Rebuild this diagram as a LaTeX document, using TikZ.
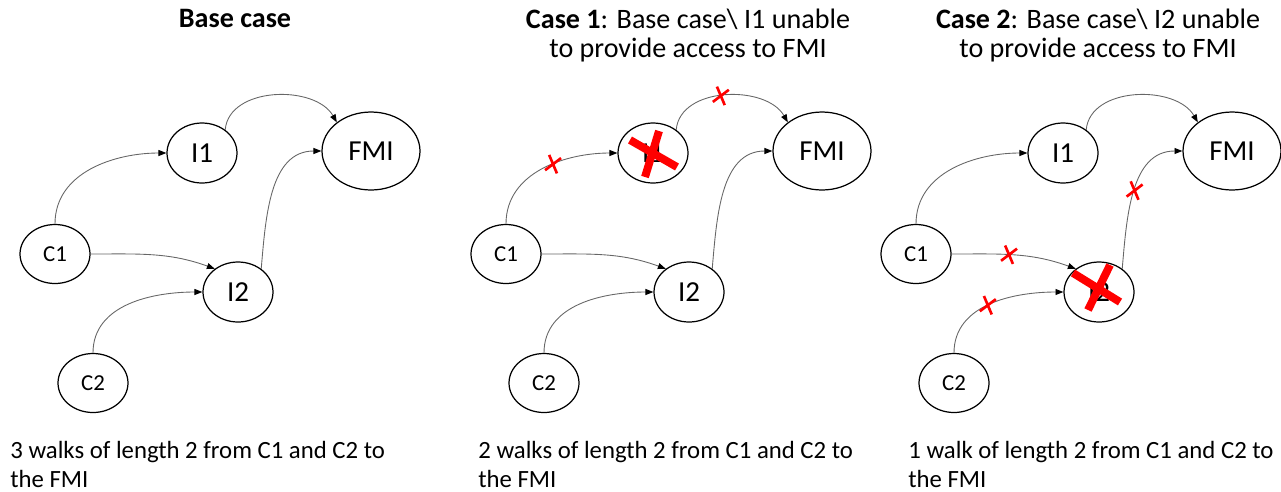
\documentclass[tikz,border=0pt]{standalone}
\usepackage{fontspec}
\setmainfont{Carlito}
\usetikzlibrary{arrows.meta,shapes.geometric,shapes.misc}

\begin{document}
\begin{tikzpicture}[%
      x=0.02cm, y=-0.02cm,
      title/.style={font=\fontsize{16}{16.5}\selectfont, inner sep=0pt, align=center},
      txt/.style={font=\fontsize{14.1}{16.5}\selectfont, inner sep=0pt, align=left},
      vertex/.style={draw, ellipse, line width=0.7pt, inner sep=0pt,
        minimum width=1.4cm, minimum height=1.2cm,
        font=\fontsize{16.5}{18}\selectfont},
      small/.style={vertex, minimum height=1.18cm, font=\fontsize{13}{15}\selectfont},
      big/.style={vertex, minimum width=1.96cm, minimum height=1.56cm},
      edge/.style={draw=black!60, line width=0.5pt,
        -{Triangle[length=4.5pt,width=3.4pt,fill=black,color=black]}},
      cut/.style={cross out, draw=red, line width=1.5pt, inner sep=0pt,
        minimum width=5.5pt, minimum height=7.5pt, rotate=-15},
      bigcut/.style={draw=red, line width=4.5pt},
      ]
      \useasboundingbox (0,0) rectangle (1281,491);

      % base case
      \node[title, anchor=base] (ta) at (235,27) {\textbf{Base case}};
      \node[small] (c1a) at (55,254) {C1};
      \node[small] (c2a) at (93,383) {C2};
      \node[vertex] (i1a) at (202,153) {I1};
      \node[vertex] (i2a) at (238,292) {I2};
      \node[big] (fmia) at (371,151) {FMI};
      \draw[edge] (c1a.north) to[out=90,in=180] (i1a.west);
      \draw[edge] (i1a.45) to[out=85,in=120] (fmia.140);
      \draw[edge] (c1a.east) to[out=0,in=160] (i2a.135);
      \draw[edge] (c2a.north) to[out=90,in=180] (i2a.west);
      \draw[edge] (i2a.45) to[out=85,in=180] (fmia.west);
      \node[txt, anchor=base west] (ba) at (10,487)
        {3 walks of length 2 from C1 and C2 to\\the FMI};

      % case 1
      \begin{scope}[shift={(451,0)}]
      \node[title, anchor=base] (tb) at (237,57)
        {\textbf{Case 1}: Base case\textbackslash\ I1 unable\\to provide access to FMI};
      \node[small] (c1b) at (55,254) {C1};
      \node[small] (c2b) at (93,383) {C2};
      \node[vertex] (i1b) at (202,153) {I1};
      \node[vertex] (i2b) at (238,292) {I2};
      \node[big] (fmib) at (371,151) {FMI};
      \draw[edge] (c1b.north) to[out=90,in=180] node[cut, pos=0.58] {} (i1b.west);
      \draw[edge] (i1b.45) to[out=85,in=120] node[cut, pos=0.47] {} (fmib.140);
      \draw[edge] (c1b.east) to[out=0,in=160] (i2b.135);
      \draw[edge] (c2b.north) to[out=90,in=180] (i2b.west);
      \draw[edge] (i2b.45) to[out=85,in=180] (fmib.west);
      \draw[bigcut] ([shift={(-23,-13)}]i1b.center) -- ([shift={(24,14)}]i1b.center);
      \draw[bigcut] ([shift={(6,-22)}]i1b.center) -- ([shift={(-8,24)}]i1b.center);
      \node[txt, anchor=base west] (bb) at (27,487)
        {2 walks of length 2 from C1 and C2 to\\the FMI};
      \end{scope}

      % case 2
      \begin{scope}[shift={(861,0)}]
      \node[title, anchor=base] (tc) at (237,57)
        {\textbf{Case 2}: Base case\textbackslash\ I2 unable\\to provide access to FMI};
      \node[small] (c1c) at (55,254) {C1};
      \node[small] (c2c) at (93,383) {C2};
      \node[vertex] (i1c) at (202,153) {I1};
      \node[vertex] (i2c) at (238,292) {I2};
      \node[big] (fmic) at (371,151) {FMI};
      \draw[edge] (c1c.north) to[out=90,in=180] (i1c.west);
      \draw[edge] (i1c.45) to[out=85,in=120] (fmic.140);
      \draw[edge] (c1c.east) to[out=0,in=160] node[cut, pos=0.45] {} (i2c.135);
      \draw[edge] (c2c.north) to[out=90,in=180] node[cut, pos=0.48] {} (i2c.west);
      \draw[edge] (i2c.45) to[out=85,in=180] node[cut, pos=0.5] {} (fmic.west);
      \draw[bigcut] ([shift={(-26,-19)}]i2c.center) -- ([shift={(21,10)}]i2c.center);
      \draw[bigcut] ([shift={(11,-27)}]i2c.center) -- ([shift={(-11,18)}]i2c.center);
      \node[txt, anchor=base west] (bc) at (47,487)
        {1 walk of length 2 from C1 and C2 to\\the FMI};
      \end{scope}
\end{tikzpicture}
\end{document}
